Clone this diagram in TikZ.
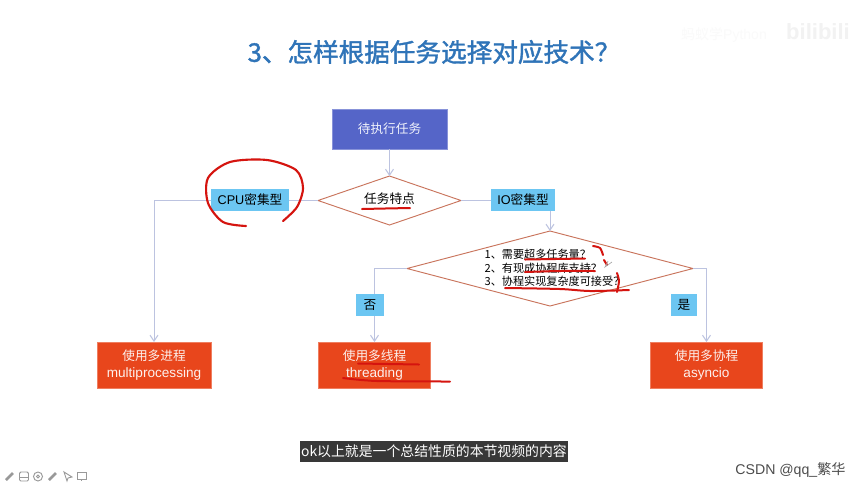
\documentclass[tikz,border=0pt]{standalone}
\usepackage{fontspec}
\setmainfont{Liberation Sans}
\newfontfamily\cjk{Noto Sans CJK SC}
\newfontfamily\cjkhead[FakeBold=1.5]{Noto Sans CJK SC}
\usetikzlibrary{shapes.geometric,arrows.meta}
\definecolor{titleblue}{HTML}{2F74B8}
\definecolor{taskblue}{HTML}{5565C8}
\definecolor{tagblue}{HTML}{6CC6F2}
\definecolor{resultred}{HTML}{E8461C}
\definecolor{edgered}{HTML}{C9745C}
\definecolor{flowgrey}{HTML}{BCC3E0}
\definecolor{penred}{HTML}{D5140F}
\tikzset{
  flowline/.style={draw=flowgrey,line width=0.75pt},
  penline/.style={draw=penred,line width=1.5pt,line cap=round},
  iconline/.style={draw=black!40,line width=0.7pt},
  boxtext/.style={font=\fontsize{9.5}{13}\selectfont,inner sep=0pt,outer sep=0pt,align=center},
  taskbox/.style={boxtext,fill=taskblue,draw=taskblue!70!white,text=white!92!taskblue,minimum width=86.25pt,minimum height=30pt},
  resultbox/.style={boxtext,fill=resultred,draw=resultred!70!white,text=white!92!resultred,minimum width=84pt,minimum height=34.5pt},
  tagbox/.style={boxtext,fill=tagblue,minimum height=16.5pt},
  checkbox/.style={diamond,draw=edgered,line width=0.7pt,inner sep=0pt,outer sep=0pt}
}
\begin{document}
\begin{tikzpicture}[x=0.75pt,y=-0.75pt,>={Straight Barb[length=4.5pt,width=6pt]}]
\useasboundingbox (0,0) rectangle (865,487);
\fill[white] (0,0) rectangle (865,487);

\draw (724,35) node[text=black!2,font=\fontsize{10.5}{12}\selectfont] (mark) {{\cjk 蚂蚁学}Python};
\draw (818,32) node[text=black!5,font=\fontsize{16.5}{20}\selectfont\bfseries] (logo) {bilibili};

\draw (434,52) node[text=titleblue,font=\fontsize{19.2}{22}\selectfont\cjkhead] (title) {3、怎样根据任务选择对应技术？};

\draw (389.5,129) node[taskbox] (task) {\cjk 待执行任务};
\draw (389.5,200.5) node[checkbox,minimum width=107.25pt,minimum height=36.75pt] (kind) {};
\draw (550,268.5) node[checkbox,minimum width=214.5pt,minimum height=56.25pt] (need) {};
\draw (154,365) node[resultbox,minimum width=85.5pt] (multi) {\cjk 使用多进程\\{\fontsize{10.2}{13}\selectfont\rmfamily multiprocessing}};
\draw (374.5,365) node[resultbox] (thread) {\cjk 使用多线程\\{\fontsize{10.2}{13}\selectfont\rmfamily threading}};
\draw (706.5,365) node[resultbox] (aio) {\cjk 使用多协程\\{\fontsize{10.2}{13}\selectfont\rmfamily asyncio}};

\draw[flowline,->] (task) -- (kind);
\draw[flowline,->] (kind.west) -| (multi.north);
\draw[flowline,->] (kind.east) -| (need.north);
\draw[flowline,->] (need.west) -| (thread.north);
\draw[flowline,->] (need.east) -| (aio.north);

\draw (389.5,199) node[boxtext] (kindtext) {\cjk 任务特点};
\draw (554.5,268) node[boxtext,align=left,font=\fontsize{8.35}{10.1}\selectfont\cjk] (needtext) {1、需要超多任务量？\\2、有现成协程库支持？\\3、协程实现复杂度可接受？};

\draw (250,200) node[tagbox,minimum width=58.5pt] (cpu) {CPU{\cjk 密集型}};
\draw (523,200) node[tagbox,minimum width=48pt] (io) {IO{\cjk 密集型}};
\draw (370,305) node[tagbox,minimum width=21pt] (no) {\cjk 否};
\draw (684,305) node[tagbox,minimum width=19.5pt] (yes) {\cjk 是};

\draw[penline,line width=1.6pt] plot[smooth] coordinates {(246,226) (223,222) (208,203) (208,178) (230,162) (267,160) (296,170) (303,188) (297,207) (283,221)};
\draw[penline] (362,209) -- (385,208.5) -- (410,208);
\draw[penline] (525,259.5) -- (585,258.5);
\draw[penline] plot[smooth] coordinates {(525,272) (560,271) (595,271)};
\draw[penline] plot[smooth] coordinates {(505,288) (560,289) (590,291) (629,290)};
\draw[penline] plot[smooth] coordinates {(593,246) (600,248) (603,255)};
\draw[penline] (604,260) -- (607,265);
\draw[penline] plot[smooth] coordinates {(617,273) (619,281) (617,292)};
\draw[penline] (358,363.5) -- (419,364.5);
\draw[penline] plot[smooth] coordinates {(343,378) (377,381) (450,381.5)};
\draw[iconline,black!35,line width=0.5pt] (612,262) -- (605,267) -- (608,261);

\draw (434,451.5) node[fill=black!78,text=white,inner sep=0pt,minimum width=201pt,minimum height=15.75pt,font=\fontsize{10.4}{12}\selectfont\cjk] (caption) {ok以上就是一个总结性质的本节视频的内容};
\draw (790.5,470) node[text=black!70,font=\fontsize{10.6}{12}\selectfont] (csdn) {CSDN @qq\_{\cjk 繁华}};

\draw[iconline,line width=2pt] (6,480) -- (13,473);
\draw[iconline,rounded corners=1pt] (19.5,472) rectangle (28.5,481);
\draw[iconline] (20,477) -- (28,477);
\draw[iconline] (38,476.5) circle (4.5);
\draw[iconline] (38,476.5) circle (1.5);
\draw[iconline,line width=2pt] (49,480) -- (56,473);
\draw[iconline] (64,472) -- (72,477) -- (68,478) -- (67,481) -- cycle;
\draw[iconline] (77,472) rectangle (86,479);
\draw[iconline] (81.5,479) -- (81.5,481);
\end{tikzpicture}
\end{document}
